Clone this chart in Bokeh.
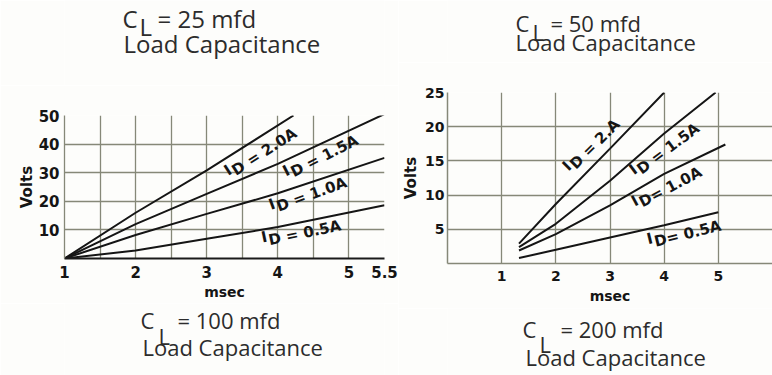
import math
from bokeh.plotting import figure
from bokeh.models import Range1d, FixedTicker, Label
from bokeh.layouts import row, column
from bokeh.embed import file_html
from bokeh.resources import INLINE

# ---------------- data: left chart ----------------
left_x_range = (1.0, 5.5)
left_y_range = (0.0, 50.0)
left_xticks = [1, 2, 3, 4, 5, 5.5]
left_xtick_labels = ["1", "2", "3", "4", "5", "5.5"]
left_xgrid = [1, 1.5, 2, 2.5, 3, 3.5, 4, 4.5, 5, 5.5]
left_yticks = [10, 20, 30, 40, 50]
left_ygrid = [10, 20, 30, 40, 50]

left_names = ["ID = 2.0A", "ID = 1.5A", "ID = 1.0A", "ID = 0.5A"]
left_t_20 = [1.0, 2.0, 3.0, 4.22]
left_v_20 = [0.0, 16.0, 30.8, 50.0]
left_t_15 = [1.0, 2.0, 3.0, 4.0, 5.5]
left_v_15 = [0.0, 12.0, 22.6, 33.1, 50.5]
left_t_10 = [1.0, 2.0, 3.0, 4.0, 5.5]
left_v_10 = [0.0, 8.2, 15.6, 22.8, 35.2]
left_t_05 = [1.0, 2.0, 3.0, 4.0, 5.5]
left_v_05 = [0.0, 2.8, 6.9, 11.0, 18.6]

# ---------------- data: right chart ----------------
right_x_range = (0.0, 6.0)
right_y_range = (0.0, 25.0)
right_xticks = [1, 2, 3, 4, 5]
right_xgrid = [1, 2, 3, 4, 5]
right_yticks = [5, 10, 15, 20, 25]
right_ygrid = [5, 10, 15, 20, 25]

right_names = ["ID = 2.A", "ID = 1.5A", "ID= 1.0A", "ID= 0.5A"]
right_t_20 = [1.32, 2.0, 3.0, 4.0]
right_v_20 = [2.9, 8.7, 16.8, 25.0]
right_t_15 = [1.32, 2.0, 3.0, 4.0, 4.95]
right_v_15 = [2.4, 5.8, 12.1, 19.0, 25.0]
right_t_10 = [1.32, 2.0, 3.0, 4.0, 5.13]
right_v_10 = [1.9, 4.3, 8.5, 13.1, 17.4]
right_t_05 = [1.32, 2.0, 3.0, 4.0, 5.0]
right_v_05 = [0.8, 2.0, 3.8, 5.6, 7.5]

# captions (load capacitance, mfd)
caption_values = ["25", "50", "100", "200"]

# ---------------- styling / geometry (page pixels) ----------------
BG = "#fdfdfb"
INK = "#151515"
GRID = "#868878"
CAP_INK = "#2c2c2c"
TOTAL_H = 375
CHART_TOP_BORDER = 30
CHART_BOTTOM_BORDER = 45

LEFT_CANVAS = (0, 398)            # page x, width
LEFT_FRAME = (64, 115, 320, 143)  # page x, page y, w, h
RIGHT_CANVAS = (398, 374)
RIGHT_FRAME = (447, 92, 325, 171)


def page_to_data(frame, xr, yr, px, py):
    fx, fy, fw, fh = frame
    x = xr[0] + (px - fx) / fw * (xr[1] - xr[0])
    y = yr[0] + (fy + fh - py) / fh * (yr[1] - yr[0])
    return x, y


def borders(canvas, frame):
    cx, cw = canvas
    fx, fy, fw, fh = frame
    return fx - cx, cx + cw - (fx + fw)


def make_fig(canvas, frame, xr, yr):
    fx, fy, fw, fh = frame
    bl, br = borders(canvas, frame)
    p = figure(frame_width=fw, frame_height=fh,
               min_border_left=bl, min_border_right=br,
               min_border_top=CHART_TOP_BORDER,
               min_border_bottom=CHART_BOTTOM_BORDER,
               x_range=Range1d(*xr), y_range=Range1d(*yr),
               output_backend="svg", toolbar_location=None,
               background_fill_color=BG, border_fill_color=BG)
    p.outline_line_color = None
    for ax in (p.xaxis[0], p.yaxis[0]):
        ax.major_tick_in = 0
        ax.major_tick_out = 0
        ax.minor_tick_in = 0
        ax.minor_tick_out = 0
        ax.major_label_text_font = "DejaVu Sans"
        ax.major_label_text_font_style = "bold"
        ax.major_label_text_color = INK
        ax.axis_label_text_font = "DejaVu Sans"
        ax.axis_label_text_font_style = "bold"
        ax.axis_label_text_color = INK
    p.xaxis.axis_label = "msec"
    p.yaxis.axis_label = "Volts"
    p.xgrid.grid_line_color = GRID
    p.ygrid.grid_line_color = GRID
    p.xgrid.grid_line_width = 1.3
    p.ygrid.grid_line_width = 1.3
    return p


def caption_fig(canvas, frame, top, height):
    fx, fy, fw, fh = frame
    bl, br = borders(canvas, frame)
    p = figure(frame_width=fw, frame_height=height,
               min_border_left=bl, min_border_right=br,
               min_border_top=0, min_border_bottom=0,
               x_range=Range1d(fx, fx + fw), y_range=Range1d(top + height, top),
               x_axis_type=None, y_axis_type=None,
               output_backend="svg", toolbar_location=None,
               background_fill_color=BG, border_fill_color=BG)
    p.outline_line_color = None
    p.grid.visible = False
    return p


def caption(p, value, c_x, c_base, sub_x, sub_base, eq_x, l2_x, l2_base, size):
    common = dict(text_font="Open Sans", text_font_size=f"{size}px",
                  text_color=CAP_INK, text_baseline="alphabetic",
                  text_align="left")
    for txt, px, py in [("C", c_x, c_base), ("L", sub_x, sub_base),
                        (f"= {value} mfd", eq_x, c_base),
                        ("Load Capacitance", l2_x, l2_base)]:
        p.add_layout(Label(x=px, y=py, text=txt, **common))


CW = {"D": 0.83, " ": 0.348, "=": 0.838, ".": 0.38, "A": 0.774}


def id_label(p, frame, xr, yr, name, cx, cy, ang, size):
    th = math.radians(ang)
    ux, uy = math.cos(th), math.sin(th)
    rest = name[1:]
    w = sum(CW.get(ch, 0.696) for ch in rest) * size
    iw = 0.372 * size
    gap = 1.0
    total = iw + gap + w
    main_off = total / 2 - w / 2
    i_off = -(total / 2 - iw / 2)
    rz = 0.28 * size
    x, y = page_to_data(frame, xr, yr, cx, cy)
    common = dict(text_font="DejaVu Sans", text_font_style="bold",
                  text_font_size=f"{size}px", text_color=INK,
                  text_align="center", text_baseline="middle", angle=th)
    p.add_layout(Label(x=x, y=y, text=rest, x_offset=ux * main_off,
                       y_offset=uy * main_off, **common))
    p.add_layout(Label(x=x, y=y, text=name[0],
                       x_offset=ux * i_off - uy * rz,
                       y_offset=uy * i_off + ux * rz, **common))


# ---------------- left chart ----------------
pl = make_fig(LEFT_CANVAS, LEFT_FRAME, left_x_range, left_y_range)
pl.xaxis.ticker = FixedTicker(ticks=left_xticks)
pl.xaxis.major_label_overrides = dict(zip(left_xticks, left_xtick_labels))
pl.yaxis.ticker = FixedTicker(ticks=left_yticks)
pl.xgrid.ticker = FixedTicker(ticks=left_xgrid)
pl.ygrid.ticker = FixedTicker(ticks=left_ygrid)
pl.xaxis.axis_line_color = "#1a1a1a"
pl.xaxis.axis_line_width = 2
pl.yaxis.axis_line_color = GRID
pl.yaxis.axis_line_width = 1.3
pl.xaxis.major_label_text_font_size = "15px"
pl.yaxis.major_label_text_font_size = "15px"
pl.xaxis.major_label_standoff = 7
pl.yaxis.major_label_standoff = 5
pl.xaxis.axis_label_text_font_size = "14px"
pl.yaxis.axis_label_text_font_size = "15px"
pl.xaxis.axis_label_standoff = 3
pl.yaxis.axis_label_standoff = 0

for t, v in [(left_t_20, left_v_20), (left_t_15, left_v_15),
             (left_t_10, left_v_10), (left_t_05, left_v_05)]:
    pl.line(t, v, line_color=INK, line_width=2)

left_label_pos = [(261, 153, 33), (321, 157, 27), (308, 195, 20), (301, 233, 12)]
for name, (cx, cy, ang) in zip(left_names, left_label_pos):
    id_label(pl, LEFT_FRAME, left_x_range, left_y_range, name, cx, cy, ang, 15)

left_chart_top = LEFT_FRAME[1] - CHART_TOP_BORDER
left_chart_bottom = LEFT_FRAME[1] + LEFT_FRAME[3] + CHART_BOTTOM_BORDER
cap_tl = caption_fig(LEFT_CANVAS, LEFT_FRAME, 0, left_chart_top)
caption(cap_tl, caption_values[0], 122, 18, 139, 26, 157, 123, 43, 24)
cap_bl = caption_fig(LEFT_CANVAS, LEFT_FRAME, left_chart_bottom,
                     TOTAL_H - left_chart_bottom)
caption(cap_bl, caption_values[2], 140, 319, 158, 335, 177, 142, 346, 22)

# ---------------- right chart ----------------
pr = make_fig(RIGHT_CANVAS, RIGHT_FRAME, right_x_range, right_y_range)
pr.xaxis.ticker = FixedTicker(ticks=right_xticks)
pr.yaxis.ticker = FixedTicker(ticks=right_yticks)
pr.xgrid.ticker = FixedTicker(ticks=right_xgrid)
pr.ygrid.ticker = FixedTicker(ticks=right_ygrid)
pr.xaxis.axis_line_color = GRID
pr.xaxis.axis_line_width = 1.5
pr.yaxis.axis_line_color = GRID
pr.yaxis.axis_line_width = 1.5
pr.xaxis.major_label_text_font_size = "14px"
pr.yaxis.major_label_text_font_size = "14px"
pr.xaxis.major_label_standoff = 7
pr.yaxis.major_label_standoff = 3
pr.xaxis.axis_label_text_font_size = "14px"
pr.yaxis.axis_label_text_font_size = "15px"
pr.xaxis.axis_label_standoff = 4
pr.yaxis.axis_label_standoff = 2

for t, v in [(right_t_20, right_v_20), (right_t_15, right_v_15),
             (right_t_10, right_v_10), (right_t_05, right_v_05)]:
    pr.line(t, v, line_color=INK, line_width=2)

right_label_pos = [(592, 146, 45), (665, 150, 37), (667, 188, 28), (684, 234, 14)]
for name, (cx, cy, ang) in zip(right_names, right_label_pos):
    id_label(pr, RIGHT_FRAME, right_x_range, right_y_range, name, cx, cy, ang, 15)

right_chart_top = RIGHT_FRAME[1] - CHART_TOP_BORDER
right_chart_bottom = RIGHT_FRAME[1] + RIGHT_FRAME[3] + CHART_BOTTOM_BORDER
cap_tr = caption_fig(RIGHT_CANVAS, RIGHT_FRAME, 0, right_chart_top)
caption(cap_tr, caption_values[1], 515, 22, 532, 31, 550, 515, 41, 22)
cap_br = caption_fig(RIGHT_CANVAS, RIGHT_FRAME, right_chart_bottom,
                     TOTAL_H - right_chart_bottom)
caption(cap_br, caption_values[3], 522, 328, 539, 343, 560, 525, 356, 22)

layout = row(column(cap_tl, pl, cap_bl), column(cap_tr, pr, cap_br))
open("out.html", "w").write(file_html(layout, INLINE))
